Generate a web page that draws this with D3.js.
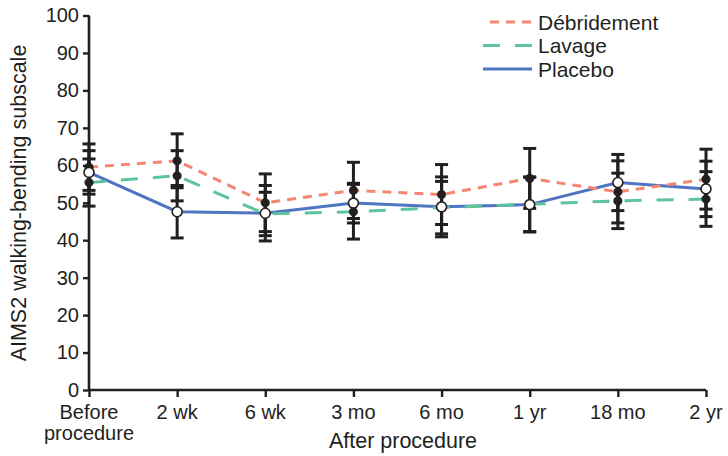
<!DOCTYPE html>
<html>
<head>
<meta charset="utf-8">
<script src="https://cdn.jsdelivr.net/npm/d3@7"></script>
<style>
  html, body { margin: 0; padding: 0; background: #fff; }
  svg { display: block; }
  text { font-family: "Liberation Sans", Arial, Helvetica, sans-serif; fill: #231f20; }
</style>
</head>
<body>
<svg id="chart" width="728" height="456"></svg>
<script>
const categories = ["Before procedure", "2 wk", "6 wk", "3 mo", "6 mo", "1 yr", "18 mo", "2 yr"];
const yTicks = [0, 10, 20, 30, 40, 50, 60, 70, 80, 90, 100];

const debridementMean = [59.5, 61.2, 50.0, 53.3, 52.2, 56.5, 52.9, 56.3];
const debridementErr  = [6.2, 7.2, 7.7, 7.5, 8.0, 8.0, 8.3, 8.0];
const lavageMean      = [55.4, 57.2, 47.0, 47.6, 48.7, 49.6, 50.5, 51.0];
const lavageErr       = [6.3, 6.7, 5.8, 7.3, 7.0, 7.3, 7.4, 7.3];
const placeboMean     = [58.1, 47.6, 47.2, 49.9, 48.9, 49.5, 55.4, 53.7];
const placeboErr      = [5.8, 7.0, 7.4, 5.3, 8.0, 7.3, 7.5, 7.4];

const seriesNames = ["Débridement", "Lavage", "Placebo"];

const svg = d3.select("#chart");
const ink = "#231f20";

const x = d3.scalePoint().domain(categories).range([89, 706]);
const y = d3.scaleLinear().domain([0, 100]).range([390, 15.5]);

const series = [
  { name: seriesNames[2], mean: placeboMean, err: placeboErr, color: "#4f74c1", dash: null, open: true },
  { name: seriesNames[1], mean: lavageMean, err: lavageErr, color: "#5ec49b", dash: "17,15", open: false },
  { name: seriesNames[0], mean: debridementMean, err: debridementErr, color: "#f48771", dash: "9,7", open: false }
];

// Axes
const yAxis = d3.axisLeft(y).tickValues(yTicks).tickSize(6).tickPadding(4);
const gy = svg.append("g").attr("transform", "translate(89,0)").call(yAxis);
gy.select(".domain").attr("stroke", ink).attr("stroke-width", 2.6).attr("d", `M0,${y(0)}V${y(100)}`);
gy.selectAll(".tick line").attr("stroke", ink).attr("stroke-width", 2.4);
gy.selectAll(".tick text").attr("font-size", 20).style("fill", ink).attr("font-family", "Liberation Sans, Arial, sans-serif");

const xAxis = d3.axisBottom(x).tickSize(7).tickFormat(() => "");
const gx = svg.append("g").attr("transform", `translate(0,${y(0)})`).call(xAxis);
gx.select(".domain").attr("stroke", ink).attr("stroke-width", 2.6).attr("d", `M${x(categories[0])},0H${x(categories[categories.length-1])}`);
gx.selectAll(".tick line").attr("stroke", ink).attr("stroke-width", 2.4);

// X tick labels (possibly two lines)
const xl = svg.append("g");
categories.forEach(c => {
  const parts = c === "Before procedure" ? ["Before", "procedure"] : [c];
  const t = xl.append("text").attr("x", x(c)).attr("y", 419).attr("text-anchor", "middle").attr("font-size", 20);
  parts.forEach((p, i) => t.append("tspan").attr("x", x(c)).attr("dy", i === 0 ? 0 : 21).text(p));
});

svg.append("text").attr("x", 403).attr("y", 448).attr("text-anchor", "middle").attr("font-size", 21.5).text("After procedure");
svg.append("text").attr("transform", "translate(26,203) rotate(-90)").attr("text-anchor", "middle").attr("font-size", 21.5)
  .text("AIMS2 walking-bending subscale");

// Lines
const line = d3.line().x((d, i) => x(categories[i])).y(d => y(d));
series.forEach(s => {
  svg.append("path").datum(s.mean).attr("d", line).attr("fill", "none")
    .attr("stroke", s.color).attr("stroke-width", 3)
    .attr("stroke-dasharray", s.dash);
});

// Error bars
const eb = svg.append("g").attr("stroke", ink).attr("stroke-width", 3);
series.forEach(s => {
  s.mean.forEach((m, i) => {
    const cx = x(categories[i]);
    const hi = y(m + s.err[i]), lo = y(m - s.err[i]);
    eb.append("line").attr("x1", cx).attr("x2", cx).attr("y1", hi).attr("y2", lo);
    eb.append("line").attr("x1", cx - 6.5).attr("x2", cx + 6.5).attr("y1", hi).attr("y2", hi);
    eb.append("line").attr("x1", cx - 6.5).attr("x2", cx + 6.5).attr("y1", lo).attr("y2", lo);
  });
});

// Points: filled first, open on top
[series[1], series[2], series[0]].forEach(s => {
  svg.append("g").selectAll("circle").data(s.mean).join("circle")
    .attr("cx", (d, i) => x(categories[i])).attr("cy", d => y(d))
    .attr("r", s.open ? 5 : 4.3)
    .attr("fill", s.open ? "#fff" : ink)
    .attr("stroke", ink).attr("stroke-width", s.open ? 1.6 : 0.5);
});

// Legend
const legendOrder = [series[2], series[1], series[0]];
const lg = svg.append("g");
legendOrder.forEach((s, i) => {
  const ly = 22 + i * 23.5;
  lg.append("line").attr("x1", s.name === "Débridement" ? 490 : 483).attr("x2", 532).attr("y1", ly).attr("y2", ly)
    .attr("stroke", s.color).attr("stroke-width", 3).attr("stroke-dasharray", s.dash);
  lg.append("text").attr("x", 538).attr("y", ly + 7.5).attr("font-size", 21).text(s.name);
});
</script>
</body>
</html>
